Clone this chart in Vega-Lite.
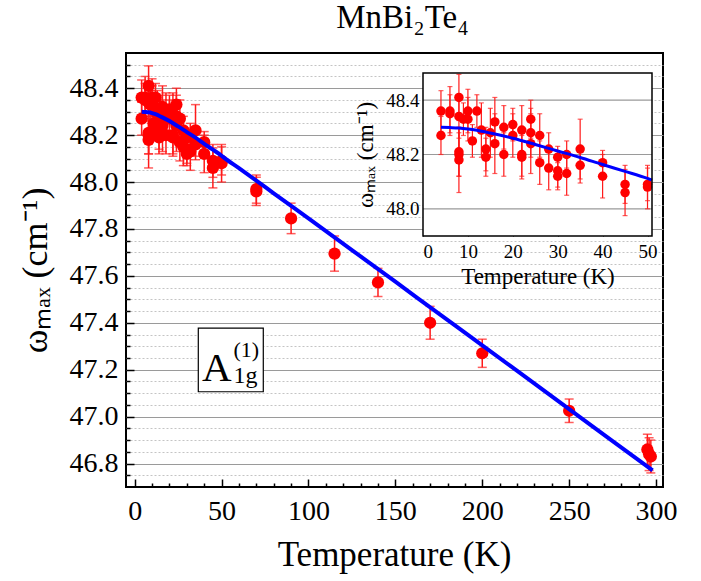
{
  "$schema": "https://vega.github.io/schema/vega-lite/v6.json",
  "width": 537,
  "height": 434,
  "autosize": {"type": "none"},
  "padding": {"left": 126, "top": 53, "right": 38, "bottom": 94},
  "title": {"text": "MnBi₂Te₄", "font": "Liberation Serif", "fontSize": 33, "fontWeight": "normal", "color": "black", "anchor": "middle", "baseline": "alphabetic", "offset": -8, "dx": 8},
  "config": {
    "view": {"stroke": "black", "strokeWidth": 2},
    "axis": {"labelFont": "Liberation Serif", "titleFont": "Liberation Serif", "titleFontWeight": "normal", "labelColor": "black", "titleColor": "black", "tickColor": "black", "domain": false}
  },
  "datasets": {
    "pts": [
      {"T": 4, "w": 48.36, "e": 0.075}, {"T": 4, "w": 48.27, "e": 0.07},
      {"T": 6, "w": 48.36, "e": 0.09}, {"T": 6, "w": 48.35, "e": 0.07},
      {"T": 8, "w": 48.41, "e": 0.085}, {"T": 8, "w": 48.34, "e": 0.08},
      {"T": 8, "w": 48.21, "e": 0.09}, {"T": 8, "w": 48.2, "e": 0.08},
      {"T": 8, "w": 48.18, "e": 0.12}, {"T": 9, "w": 48.33, "e": 0.06},
      {"T": 10, "w": 48.36, "e": 0.08}, {"T": 10, "w": 48.33, "e": 0.08},
      {"T": 11, "w": 48.25, "e": 0.06}, {"T": 12, "w": 48.36, "e": 0.06},
      {"T": 13, "w": 48.29, "e": 0.1}, {"T": 14, "w": 48.22, "e": 0.08},
      {"T": 14, "w": 48.19, "e": 0.07}, {"T": 15, "w": 48.28, "e": 0.09},
      {"T": 16, "w": 48.32, "e": 0.09}, {"T": 16, "w": 48.24, "e": 0.11},
      {"T": 18, "w": 48.3, "e": 0.08}, {"T": 18, "w": 48.2, "e": 0.08},
      {"T": 20, "w": 48.31, "e": 0.06}, {"T": 20, "w": 48.27, "e": 0.08},
      {"T": 22, "w": 48.29, "e": 0.09}, {"T": 22, "w": 48.2, "e": 0.08},
      {"T": 22, "w": 48.19, "e": 0.08}, {"T": 24, "w": 48.33, "e": 0.07},
      {"T": 24, "w": 48.28, "e": 0.09}, {"T": 24, "w": 48.24, "e": 0.11},
      {"T": 26, "w": 48.27, "e": 0.08}, {"T": 26, "w": 48.17, "e": 0.08},
      {"T": 28, "w": 48.22, "e": 0.06}, {"T": 28, "w": 48.15, "e": 0.08},
      {"T": 30, "w": 48.19, "e": 0.04}, {"T": 30, "w": 48.14, "e": 0.06},
      {"T": 30, "w": 48.12, "e": 0.05}, {"T": 32, "w": 48.2, "e": 0.05},
      {"T": 32, "w": 48.13, "e": 0.08}, {"T": 35, "w": 48.22, "e": 0.11},
      {"T": 35, "w": 48.16, "e": 0.065}, {"T": 40, "w": 48.17, "e": 0.045},
      {"T": 40, "w": 48.12, "e": 0.08}, {"T": 45, "w": 48.09, "e": 0.07},
      {"T": 45, "w": 48.06, "e": 0.085}, {"T": 50, "w": 48.09, "e": 0.06},
      {"T": 50, "w": 48.08, "e": 0.08},
      {"T": 70, "w": 47.97, "e": 0.06}, {"T": 70, "w": 47.96, "e": 0.06},
      {"T": 90, "w": 47.845, "e": 0.065}, {"T": 115, "w": 47.695, "e": 0.075},
      {"T": 140, "w": 47.572, "e": 0.06}, {"T": 170, "w": 47.4, "e": 0.07},
      {"T": 200, "w": 47.27, "e": 0.06}, {"T": 250, "w": 47.025, "e": 0.05},
      {"T": 295, "w": 46.86, "e": 0.065}, {"T": 296, "w": 46.84, "e": 0.07},
      {"T": 297, "w": 46.83, "e": 0.07}
    ],
    "fit": [
      {"T": 4, "w": 48.3}, {"T": 6, "w": 48.299}, {"T": 8, "w": 48.2975},
      {"T": 10, "w": 48.294}, {"T": 12, "w": 48.289}, {"T": 15, "w": 48.279},
      {"T": 20, "w": 48.26}, {"T": 25, "w": 48.237}, {"T": 30, "w": 48.213},
      {"T": 35, "w": 48.189}, {"T": 40, "w": 48.163}, {"T": 45, "w": 48.138},
      {"T": 50, "w": 48.112}, {"T": 51, "w": 48.106}, {"T": 60, "w": 48.059},
      {"T": 70, "w": 48.006}, {"T": 80, "w": 47.952}, {"T": 100, "w": 47.845},
      {"T": 125, "w": 47.71}, {"T": 150, "w": 47.575}, {"T": 175, "w": 47.439},
      {"T": 200, "w": 47.304}, {"T": 225, "w": 47.168}, {"T": 250, "w": 47.032},
      {"T": 275, "w": 46.896}, {"T": 298, "w": 46.771}
    ],
    "igrid": [{"g": 48.0}, {"g": 48.2}, {"g": 48.4}],
    "one": [{}]
  },
  "layer": [
    {
      "layer": [
        {
          "data": {"name": "pts"},
          "mark": {"type": "errorbar", "ticks": true, "color": "#ff1a1a", "thickness": 1.5, "size": 9},
          "encoding": {
            "x": {"field": "T", "type": "quantitative", "scale": {"domain": [-5, 304], "nice": false, "zero": false}, "axis": null},
            "y": {"field": "w", "type": "quantitative", "scale": {"domain": [46.7, 48.55], "nice": false, "zero": false}, "axis": null},
            "yError": {"field": "e"}
          }
        },
        {
          "data": {"name": "pts"},
          "mark": {"type": "point", "filled": true, "color": "#ff0000", "opacity": 1, "size": 150},
          "encoding": {
            "x": {"field": "T", "type": "quantitative", "scale": {"domain": [-5, 304], "nice": false, "zero": false},
              "axis": {"orient": "bottom", "values": [0, 50, 100, 150, 200, 250, 300], "tickSize": -8, "tickWidth": 1.5, "labelPadding": 18, "labelFontSize": 28, "grid": false, "title": "Temperature (K)", "titleFontSize": 35, "titleX": 268, "titleY": 78, "titleBaseline": "alphabetic", "titleAnchor": "middle"}},
            "y": {"field": "w", "type": "quantitative", "scale": {"domain": [46.7, 48.55], "nice": false, "zero": false},
              "axis": {"orient": "left", "values": [46.8, 47.0, 47.2, 47.4, 47.6, 47.8, 48.0, 48.2, 48.4], "format": ".1f", "tickSize": -8, "tickWidth": 1.5, "labelPadding": 16, "labelFontSize": 28, "grid": true, "gridColor": "#9a9a9a", "gridWidth": 1.2, "title": "ωₘₐₓ (cm⁻¹)", "titleFontSize": 36, "titleX": -91, "titleY": 217, "titleAngle": -90, "titleBaseline": "middle", "titleAnchor": "middle"}}
          }
        },
        {
          "data": {"name": "fit"},
          "mark": {"type": "line", "color": "#0000ff", "strokeWidth": 4, "interpolate": "monotone"},
          "encoding": {
            "x": {"field": "T", "type": "quantitative", "scale": {"domain": [-5, 304], "nice": false, "zero": false},
              "axis": {"orient": "bottom", "values": [10, 20, 30, 40, 60, 70, 80, 90, 110, 120, 130, 140, 160, 170, 180, 190, 210, 220, 230, 240, 260, 270, 280, 290], "tickSize": -4, "tickWidth": 1.5, "labels": false, "grid": false, "title": null}},
            "y": {"field": "w", "type": "quantitative", "scale": {"domain": [46.7, 48.55], "nice": false, "zero": false},
              "axis": {"orient": "left", "values": [46.75, 46.85, 46.9, 46.95, 47.05, 47.1, 47.15, 47.25, 47.3, 47.35, 47.45, 47.5, 47.55, 47.65, 47.7, 47.75, 47.85, 47.9, 47.95, 48.05, 48.1, 48.15, 48.25, 48.3, 48.35, 48.45, 48.5], "tickSize": -4, "tickWidth": 1.5, "labels": false, "grid": true, "gridColor": "#c4c4c4", "gridWidth": 1, "gridDash": [2, 2], "title": null}}
          }
        },
        {
          "data": {"name": "one"},
          "mark": {"type": "rect", "fill": "white", "stroke": "black", "strokeWidth": 1.2},
          "encoding": {
            "x": {"datum": 36.6, "type": "quantitative", "scale": {"domain": [-5, 304], "nice": false, "zero": false}, "axis": null},
            "x2": {"datum": 74.0},
            "y": {"datum": 47.106, "type": "quantitative", "scale": {"domain": [46.7, 48.55], "nice": false, "zero": false}, "axis": null},
            "y2": {"datum": 47.377}
          }
        },
        {
          "data": {"name": "one"},
          "mark": {"type": "text", "text": "A", "font": "Liberation Serif", "fontSize": 41, "align": "left", "baseline": "alphabetic", "color": "black"},
          "encoding": {
            "x": {"datum": 38.8, "type": "quantitative", "scale": {"domain": [-5, 304], "nice": false, "zero": false}, "axis": null},
            "y": {"datum": 47.15, "type": "quantitative", "scale": {"domain": [46.7, 48.55], "nice": false, "zero": false}, "axis": null}
          }
        },
        {
          "data": {"name": "one"},
          "mark": {"type": "text", "text": "(1)", "font": "Liberation Serif", "fontSize": 22, "align": "left", "baseline": "alphabetic", "color": "black"},
          "encoding": {
            "x": {"datum": 56.8, "type": "quantitative", "scale": {"domain": [-5, 304], "nice": false, "zero": false}, "axis": null},
            "y": {"datum": 47.255, "type": "quantitative", "scale": {"domain": [46.7, 48.55], "nice": false, "zero": false}, "axis": null}
          }
        },
        {
          "data": {"name": "one"},
          "mark": {"type": "text", "text": "1g", "font": "Liberation Serif", "fontSize": 24, "align": "left", "baseline": "alphabetic", "color": "black"},
          "encoding": {
            "x": {"datum": 56.8, "type": "quantitative", "scale": {"domain": [-5, 304], "nice": false, "zero": false}, "axis": null},
            "y": {"datum": 47.145, "type": "quantitative", "scale": {"domain": [46.7, 48.55], "nice": false, "zero": false}, "axis": null}
          }
        }
      ],
      "resolve": {"axis": {"x": "independent", "y": "independent"}}
    },
    {
      "layer": [
        {
          "data": {"name": "one"},
          "mark": {"type": "rect", "fill": "white"},
          "encoding": {
            "x": {"datum": 0, "type": "quantitative", "scale": {"domain": [0, 51], "range": [297, 526], "nice": false, "zero": false}, "axis": null},
            "x2": {"datum": 51},
            "y": {"datum": 47.9, "type": "quantitative", "scale": {"domain": [47.9, 48.5], "range": [183, 20], "nice": false, "zero": false}, "axis": null},
            "y2": {"datum": 48.5}
          }
        },
        {
          "data": {"name": "igrid"},
          "mark": {"type": "rule", "color": "#9a9a9a", "strokeWidth": 1.2},
          "encoding": {
            "x": {"datum": 0, "type": "quantitative", "scale": {"domain": [0, 51], "range": [297, 526], "nice": false, "zero": false}, "axis": null},
            "x2": {"datum": 51},
            "y": {"field": "g", "type": "quantitative", "scale": {"domain": [47.9, 48.5], "range": [183, 20], "nice": false, "zero": false}, "axis": null}
          }
        },
        {
          "data": {"name": "pts"},
          "transform": [{"filter": "datum.T <= 51"}],
          "mark": {"type": "errorbar", "ticks": true, "color": "#ff1a1a", "thickness": 1.2, "size": 5},
          "encoding": {
            "x": {"field": "T", "type": "quantitative", "scale": {"domain": [0, 51], "range": [297, 526], "nice": false, "zero": false}, "axis": null},
            "y": {"field": "w", "type": "quantitative", "scale": {"domain": [47.9, 48.5], "range": [183, 20], "nice": false, "zero": false}, "axis": null},
            "yError": {"field": "e"}
          }
        },
        {
          "data": {"name": "pts"},
          "transform": [{"filter": "datum.T <= 51"}],
          "mark": {"type": "point", "filled": true, "color": "#ff0000", "opacity": 1, "size": 90},
          "encoding": {
            "x": {"field": "T", "type": "quantitative", "scale": {"domain": [0, 51], "range": [297, 526], "nice": false, "zero": false},
              "axis": {"orient": "bottom", "offset": -251, "values": [0, 10, 20, 30, 40, 50], "tickSize": -4, "labelPadding": 10, "labelFontSize": 19, "grid": false, "title": "Temperature (K)", "titleFontSize": 23, "titleX": 411.5, "titleY": 47, "titleBaseline": "alphabetic", "titleAnchor": "middle"}},
            "y": {"field": "w", "type": "quantitative", "scale": {"domain": [47.9, 48.5], "range": [183, 20], "nice": false, "zero": false},
              "axis": {"orient": "left", "offset": -297, "values": [48.0, 48.2, 48.4], "format": ".1f", "tickSize": -4, "labelPadding": 8, "labelFontSize": 19, "grid": false, "title": "ωₘₐₓ (cm⁻¹)", "titleFontSize": 23, "titleX": -58, "titleY": 101.5, "titleAngle": -90, "titleBaseline": "middle", "titleAnchor": "middle"}}
          }
        },
        {
          "data": {"name": "fit"},
          "transform": [{"filter": "datum.T <= 51"}],
          "mark": {"type": "line", "color": "#0000ff", "strokeWidth": 3, "interpolate": "monotone"},
          "encoding": {
            "x": {"field": "T", "type": "quantitative", "scale": {"domain": [0, 51], "range": [297, 526], "nice": false, "zero": false}, "axis": null},
            "y": {"field": "w", "type": "quantitative", "scale": {"domain": [47.9, 48.5], "range": [183, 20], "nice": false, "zero": false}, "axis": null}
          }
        },
        {
          "data": {"name": "one"},
          "mark": {"type": "rect", "fill": "white", "fillOpacity": 0, "stroke": "black", "strokeWidth": 1.5},
          "encoding": {
            "x": {"datum": 0, "type": "quantitative", "scale": {"domain": [0, 51], "range": [297, 526], "nice": false, "zero": false}, "axis": null},
            "x2": {"datum": 51},
            "y": {"datum": 47.9, "type": "quantitative", "scale": {"domain": [47.9, 48.5], "range": [183, 20], "nice": false, "zero": false}, "axis": null},
            "y2": {"datum": 48.5}
          }
        }
      ],
      "resolve": {"axis": {"x": "independent", "y": "independent"}}
    }
  ],
  "resolve": {"scale": {"x": "independent", "y": "independent"}, "axis": {"x": "independent", "y": "independent"}}
}
